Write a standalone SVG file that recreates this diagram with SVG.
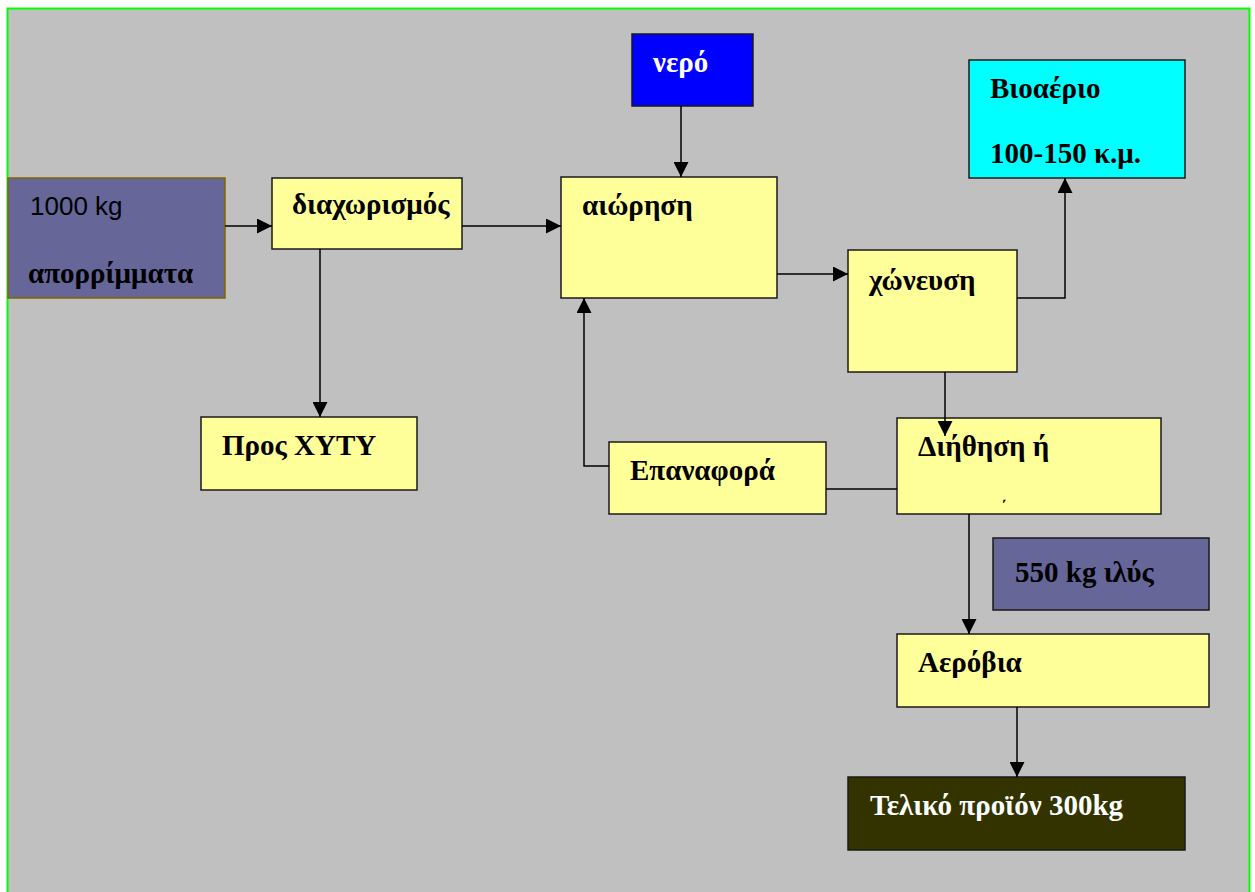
<svg xmlns="http://www.w3.org/2000/svg" width="1255" height="892" viewBox="0 0 1255 892">
<defs>
<style>
.box{stroke:#1a1a1a;stroke-width:1.5}
.y{fill:#FFFF99}
.t{font-family:"Liberation Serif","Times New Roman",serif;font-weight:bold;font-size:29px;fill:#000}
.w{fill:#fff}
.s{font-family:"Liberation Sans",Arial,sans-serif;font-size:26px;fill:#000}
.c{fill:none;stroke:#000;stroke-width:1.5}
</style>
<marker id="ah" viewBox="0 0 10 10" refX="10" refY="5" markerWidth="15" markerHeight="15" markerUnits="userSpaceOnUse" orient="auto">
<path d="M0,0 L10,5 L0,10 z" fill="#000"/>
</marker>
</defs>
<rect x="0" y="0" width="1255" height="892" fill="#fff"/>
<rect x="7.5" y="8.5" width="1242" height="890" fill="#C0C0C0" stroke="#00FF00" stroke-width="2"/>

<g id="waste">
<rect x="8" y="178" width="217" height="120" fill="#666699" stroke="#806600" stroke-width="1.5"/>
<text class="s" x="30" y="215">1000 kg</text>
<text class="t" x="28" y="283">απορρίμματα</text>
</g>
<g id="separation">
<rect class="box y" x="272" y="178" width="190" height="71"/>
<text class="t" x="292" y="214">διαχωρισμός</text>
</g>
<g id="landfill">
<rect class="box y" x="201" y="417" width="216" height="73"/>
<text class="t" x="222" y="455">Προς ΧΥΤΥ</text>
</g>
<g id="water">
<rect class="box" x="632" y="34" width="121" height="72" fill="#0000FF"/>
<text class="t w" x="653" y="72">νερό</text>
</g>
<g id="suspension">
<rect class="box y" x="561" y="177" width="216" height="121"/>
<text class="t" x="582" y="215">αιώρηση</text>
</g>
<g id="digestion">
<rect class="box y" x="848" y="250" width="169" height="122"/>
<text class="t" x="869" y="290">χώνευση</text>
</g>
<g id="biogas">
<rect class="box" x="969" y="60" width="216" height="118" fill="#00FFFF"/>
<text class="t" x="990" y="98">Βιοαέριο</text>
<text class="t" x="990" y="163">100-150 κ.μ.</text>
</g>
<g id="filtration">
<rect class="box y" x="897" y="418" width="264" height="96"/>
<text class="t" x="918" y="456">Διήθηση ή</text>
<text class="t" x="1001" y="512" style="font-size:16px">΄</text>
</g>
<g id="return">
<rect class="box y" x="609" y="442" width="217" height="72"/>
<text class="t" x="630" y="480">Επαναφορά</text>
</g>
<g id="sludge">
<rect class="box" x="993" y="538" width="216" height="72" fill="#666699"/>
<text class="t" x="1015" y="582">550 kg ιλύς</text>
</g>
<g id="aerobic">
<rect class="box y" x="897" y="634" width="312" height="73"/>
<text class="t" x="918" y="672">Αερόβια</text>
</g>
<g id="product">
<rect class="box" x="848" y="777" width="337" height="73" fill="#333300"/>
<text class="t w" x="870" y="815">Τελικό προϊόν 300kg</text>
</g>

<g id="connectors">
<path class="c" d="M225,226 H272" marker-end="url(#ah)"/>
<path class="c" d="M462,226 H561" marker-end="url(#ah)"/>
<path class="c" d="M320,249 V417" marker-end="url(#ah)"/>
<path class="c" d="M681,106 V177" marker-end="url(#ah)"/>
<path class="c" d="M777,274 H848" marker-end="url(#ah)"/>
<path class="c" d="M1017,298 H1065 V178" marker-end="url(#ah)"/>
<path class="c" d="M945,372 V436" marker-end="url(#ah)"/>
<path class="c" d="M897,489 H826"/>
<path class="c" d="M609,466 H584 V298" marker-end="url(#ah)"/>
<path class="c" d="M969,514 V634" marker-end="url(#ah)"/>
<path class="c" d="M1017,707 V777" marker-end="url(#ah)"/>
</g>
</svg>
